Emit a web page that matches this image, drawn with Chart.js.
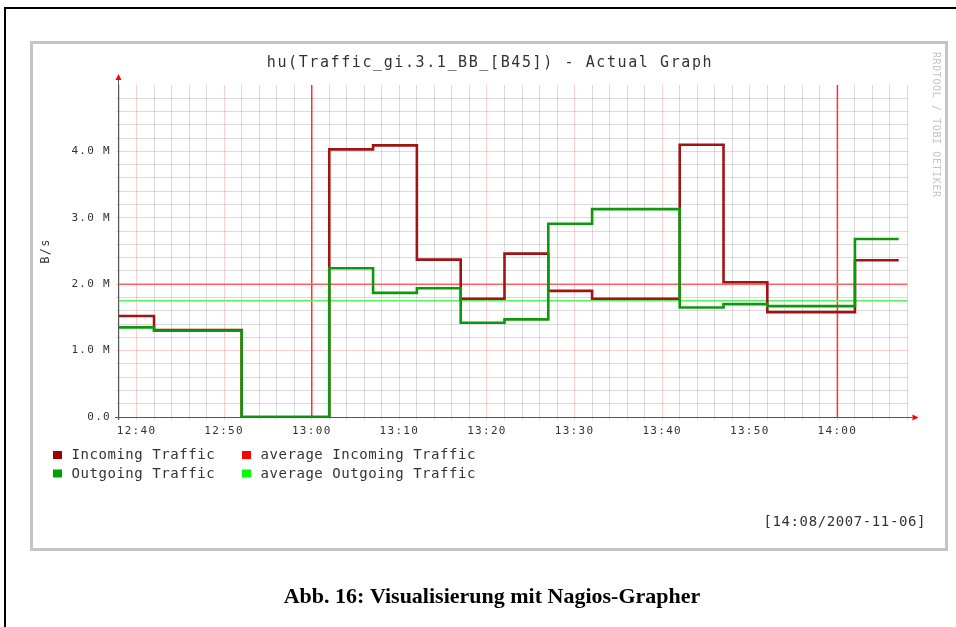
<!DOCTYPE html>
<html>
<head>
<meta charset="utf-8">
<script src="https://cdn.jsdelivr.net/npm/chart.js@4.4.1/dist/chart.umd.min.js"></script>
<style>
html,body{margin:0;padding:0;background:#fff}
#wrap{width:956px;height:627px}
</style>
</head>
<body>
<div id="wrap"><canvas id="myChart" width="956" height="627"></canvas></div>
<script>
// minutes after 12:00 where each step starts (last one = end of data)
let stepTimes = [38, 42, 52, 62, 67, 72, 77, 82, 87, 92, 102, 107, 112, 122, 127];
// values in MB/s
let incoming = [1.52, 1.31, 0, 4.03, 4.09, 2.37, 1.78, 2.46, 1.90, 1.78, 4.10, 2.03, 1.58, 2.36, 2.36];
let outgoing = [1.35, 1.30, 0, 2.24, 1.87, 1.94, 1.42, 1.47, 2.91, 3.13, 1.65, 1.70, 1.67, 2.68, 2.68];
let avgIncoming = 2.0;
let avgOutgoing = 1.75;
let hourMarks = [60, 120];   // 13:00 and 14:00
let xRange = [38, 128];      // 12:38 .. 14:08
let yMax = 5;

let seriesNames = ['Incoming Traffic', 'Outgoing Traffic', 'average Incoming Traffic', 'average Outgoing Traffic'];
let titleText = 'hu(Traffic_gi.3.1_BB_[B45]) - Actual Graph';
let stampText = '[14:08/2007-11-06]';
let captionText = 'Abb. 16: Visualisierung mit Nagios-Grapher';

let mono = '"DejaVu Sans Mono", monospace';

let toPoints = function(vals){
  let pts = [];
  for (let i = 0; i < stepTimes.length; i++) {
    pts.push({x: stepTimes[i], y: vals[i]});
  }
  return pts;
}

let datasets = [
  {label: seriesNames[0], data: toPoints(incoming), borderColor: '#a01414', legendColor: '#a00000', borderWidth: 2.6, stepped: 'before', order: 1},
  {label: seriesNames[1], data: toPoints(outgoing), borderColor: '#0c9a0c', legendColor: '#00a000', borderWidth: 2.6, stepped: 'before', order: 0},
  {label: seriesNames[2], data: [{x: xRange[0], y: avgIncoming}, {x: xRange[1], y: avgIncoming}], borderColor: '#ff6060', legendColor: '#ff0000', borderWidth: 1.6, order: 2},
  {label: seriesNames[3], data: [{x: xRange[0], y: avgOutgoing}, {x: xRange[1], y: avgOutgoing}], borderColor: '#5cf05c', legendColor: '#00ff00', borderWidth: 1.6, order: 2}
];
hourMarks.forEach(function(h){
  datasets.push({label: '', data: [{x: h, y: 0}, {x: h, y: yMax}], borderColor: '#ff3030', borderWidth: 1.5, order: 3, hideLegend: true});
});

let isMajor = function(v, step){
  return Math.abs(v / step - Math.round(v / step)) < 1e-6;
}

let deco = {
  id: 'deco',
  beforeDraw(chart){
    let ctx = chart.ctx;
    ctx.save();
    ctx.fillStyle = '#fff';
    ctx.fillRect(0, 0, chart.width, chart.height);
    ctx.strokeStyle = '#000';
    ctx.lineWidth = 2;
    ctx.beginPath();
    ctx.moveTo(5, 627); ctx.lineTo(5, 8); ctx.lineTo(956, 8);
    ctx.stroke();
    ctx.strokeStyle = '#c4c4c4';
    ctx.lineWidth = 3;
    ctx.strokeRect(31.5, 42.5, 915, 507);
    ctx.restore();
    ctx.letterSpacing = '1.3px';
  },
  beforeDatasetsDraw(chart){
    let ctx = chart.ctx;
    let a = chart.chartArea;
    ctx.save();
    ctx.strokeStyle = '#555';
    ctx.lineWidth = 1;
    ctx.beginPath();
    ctx.moveTo(a.left - 0.5, a.bottom + 3); ctx.lineTo(a.left - 0.5, a.top - 6);
    ctx.moveTo(a.left - 4, a.bottom + 0.5); ctx.lineTo(a.right + 5, a.bottom + 0.5);
    ctx.stroke();
    ctx.fillStyle = '#ff0000';
    ctx.beginPath();
    ctx.moveTo(a.left - 0.5, a.top - 11); ctx.lineTo(a.left - 3.5, a.top - 5); ctx.lineTo(a.left + 2.5, a.top - 5);
    ctx.closePath(); ctx.fill();
    ctx.beginPath();
    ctx.moveTo(a.right + 11, a.bottom + 0.5); ctx.lineTo(a.right + 5, a.bottom - 2.5); ctx.lineTo(a.right + 5, a.bottom + 3.5);
    ctx.closePath(); ctx.fill();
    ctx.restore();
  },
  afterDraw(chart){
    let ctx = chart.ctx;
    ctx.save();
    ctx.textBaseline = 'middle';
    ctx.fillStyle = '#333';
    // title
    ctx.letterSpacing = '1.6px';
    ctx.font = '15px ' + mono;
    ctx.textAlign = 'center';
    ctx.fillText(titleText, 490, 63);
    // legend
    ctx.letterSpacing = '0.55px';
    ctx.font = '14px ' + mono;
    ctx.textAlign = 'left';
    let legendSets = chart.data.datasets.filter(function(d){ return !d.hideLegend; });
    legendSets.forEach(function(d, i){
      let col = Math.floor(i / 2);
      let row = i % 2;
      let x = 53 + col * 189;
      let y = 451 + row * 18.5;
      ctx.fillStyle = d.legendColor;
      ctx.fillRect(x, y, 9, 8);
      ctx.fillStyle = '#333';
      ctx.fillText(d.label, x + 18.5, y + 4.5);
    });
    // timestamp
    ctx.letterSpacing = '0.6px';
    ctx.textAlign = 'right';
    ctx.fillText(stampText, 926, 522);
    // vertical watermark
    ctx.save();
    ctx.translate(936, 52);
    ctx.rotate(Math.PI / 2);
    ctx.font = '10px ' + mono;
    ctx.letterSpacing = '0.6px';
    ctx.textAlign = 'left';
    ctx.fillStyle = '#c4c4c4';
    ctx.fillText('RRDTOOL / TOBI OETIKER', 0, 0);
    ctx.restore();
    // caption
    ctx.letterSpacing = '0px';
    ctx.font = 'bold 22px "Liberation Serif", "Times New Roman", serif';
    ctx.textAlign = 'center';
    ctx.fillStyle = '#000';
    ctx.fillText(captionText, 492, 597);
    ctx.restore();
    ctx.letterSpacing = '0px';
  }
};

let cur_chart = new Chart(document.getElementById('myChart'), {
  type: 'line',
  data: {datasets: datasets},
  options: {
    responsive: false,
    animation: false,
    events: [],
    layout: {padding: {left: 0, top: 85, right: 48.5, bottom: 0}},
    elements: {
      point: {radius: 0},
      line: {tension: 0, fill: false, borderJoinStyle: 'miter', borderCapStyle: 'butt'}
    },
    plugins: {
      legend: {display: false},
      tooltip: {enabled: false},
      title: {display: false}
    },
    scales: {
      x: {
        type: 'linear',
        min: xRange[0],
        max: xRange[1],
        afterFit: function(s){ s.height = 210; },
        border: {display: false},
        grid: {
          color: function(c){ return isMajor(c.tick.value, 10) ? 'rgba(255,0,0,0.2)' : 'rgba(0,0,0,0.14)'; },
          lineWidth: 1,
          drawTicks: true,
          tickLength: 3
        },
        ticks: {
          stepSize: 2,
          autoSkip: false,
          maxRotation: 0,
          padding: 5,
          color: '#333',
          font: {family: mono, size: 11},
          callback: function(v){
            if (!isMajor(v, 10)) return '';
            let h = 12 + Math.floor(v / 60);
            let m = v % 60;
            return h + ':' + (m < 10 ? '0' + m : m);
          }
        }
      },
      y: {
        min: 0,
        max: yMax,
        afterFit: function(s){ s.width = 119; },
        border: {display: false},
        grid: {
          color: function(c){
            let v = c.tick.value;
            if (v >= yMax - 1e-6) return 'rgba(0,0,0,0)';
            return isMajor(v, 1) ? 'rgba(255,0,0,0.2)' : 'rgba(0,0,0,0.14)';
          },
          lineWidth: 1,
          drawTicks: true,
          tickLength: 3
        },
        title: {
          display: true,
          text: 'B/s',
          color: '#333',
          font: {family: mono, size: 12},
          padding: {top: 39, bottom: 0}
        },
        ticks: {
          stepSize: 0.2,
          autoSkip: false,
          padding: 5,
          color: '#333',
          font: {family: mono, size: 11},
          callback: function(v){
            if (!isMajor(v, 1) || v >= yMax - 1e-6) return '';
            return v === 0 ? '0.0' : v.toFixed(1) + ' M';
          }
        }
      }
    }
  },
  plugins: [deco]
});
</script>
</body>
</html>
